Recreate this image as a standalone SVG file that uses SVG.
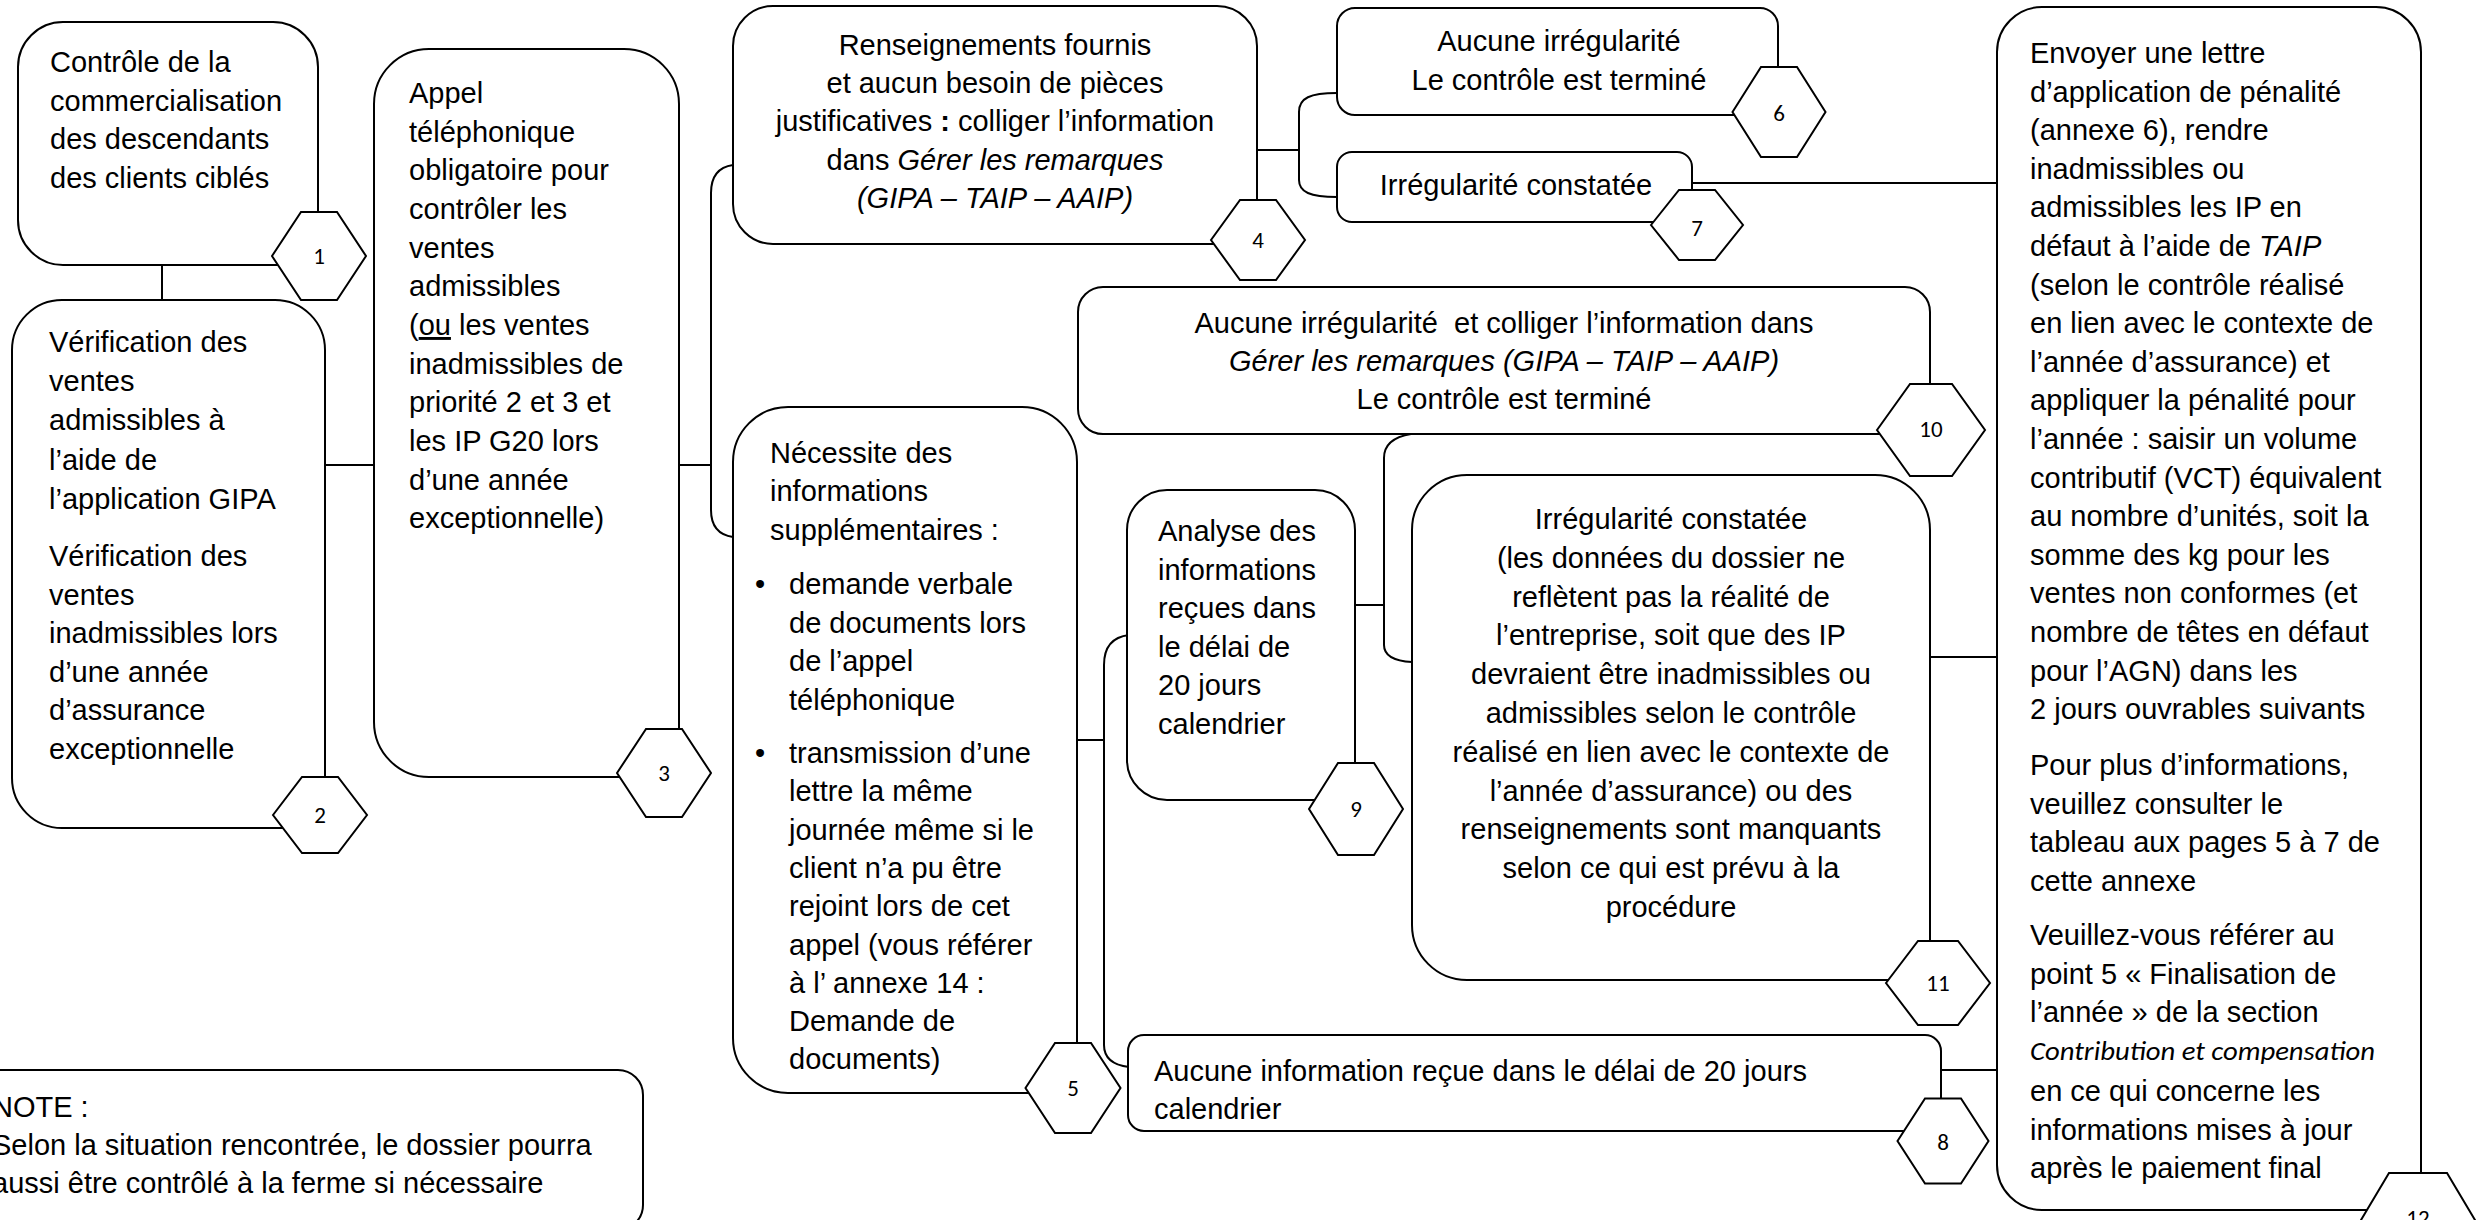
<svg xmlns="http://www.w3.org/2000/svg" width="2476" height="1220" viewBox="0 0 2476 1220">
<style>
.box{fill:#fff;stroke:#000;stroke-width:2}
.hex{fill:#fff;stroke:#000;stroke-width:2}
.conn{fill:none;stroke:#000;stroke-width:2}
.t{font-family:"Liberation Sans",Arial,sans-serif;font-size:29px;fill:#000}
.c{text-anchor:middle}
.i{font-style:italic}
.num{font-family:Carlito,Lato,"Open Sans",sans-serif;font-size:23px;text-anchor:middle;fill:#000}
</style>
<rect x="0" y="0" width="2476" height="1220" fill="#fff"/>
<g id="connectors">
<path class="conn" d="M162,265 V300"/>
<path class="conn" d="M325,465 H374"/>
<path class="conn" d="M679,465 H711"/>
<path class="conn" d="M733,165 C719,167 711,176 711,193 V510 C711,527 719,535 733,537"/>
<path class="conn" d="M1257,150 H1299"/>
<path class="conn" d="M1337,93 C1310,93 1299,98 1299,112 V180 C1299,192 1310,197 1337,197"/>
<path class="conn" d="M1692,183 H1997"/>
<path class="conn" d="M1077,740 H1104"/>
<path class="conn" d="M1129,635 C1112,637 1104,647 1104,665 V1045 C1104,1058 1112,1065 1129,1067"/>
<path class="conn" d="M1355,605 H1384"/>
<path class="conn" d="M1411,434 C1393,437 1384,445 1384,458 V645 C1384,655 1393,661 1412,662"/>
<path class="conn" d="M1930,657 H1997"/>
<path class="conn" d="M1941,1070 H1997"/>
</g>
<g id="node1">
<path class="box" d="M63,22 H273 A45,45 0 0 1 318,67 V265 H63 A45,45 0 0 1 18,220 V67 A45,45 0 0 1 63,22 Z"/>
<text class="t"><tspan x="50" y="72">Contrôle de la</tspan><tspan x="50" y="110.5">commercialisation</tspan><tspan x="50" y="149">des descendants</tspan><tspan x="50" y="187.5">des clients ciblés</tspan></text>
<polygon class="hex" points="272,256 301,212 337,212 366,256 337,300 301,300"/>
<text class="num" x="319" y="264">1</text>
</g>
<g id="node2">
<path class="box" d="M62,300 H275 A50,50 0 0 1 325,350 V828 H62 A50,50 0 0 1 12,778 V350 A50,50 0 0 1 62,300 Z"/>
<text class="t"><tspan x="49" y="352">Vérification des</tspan><tspan x="49" y="391.2">ventes</tspan><tspan x="49" y="430.4">admissibles à</tspan><tspan x="49" y="469.6">l’aide de</tspan><tspan x="49" y="508.8">l’application GIPA</tspan><tspan x="49" y="566">Vérification des</tspan><tspan x="49" y="604.6">ventes</tspan><tspan x="49" y="643.2">inadmissibles lors</tspan><tspan x="49" y="681.8">d’une année</tspan><tspan x="49" y="720.4">d’assurance</tspan><tspan x="49" y="759">exceptionnelle</tspan></text>
<polygon class="hex" points="273,815 302,777 338,777 367,815 338,853 302,853"/>
<text class="num" x="320" y="823">2</text>
</g>
<g id="node3">
<path class="box" d="M429,49 H624 A55,55 0 0 1 679,104 V777 H429 A55,55 0 0 1 374,722 V104 A55,55 0 0 1 429,49 Z"/>
<text class="t"><tspan x="409" y="103">Appel</tspan><tspan x="409" y="141.7">téléphonique</tspan><tspan x="409" y="180.3">obligatoire pour</tspan><tspan x="409" y="219">contrôler les</tspan><tspan x="409" y="257.6">ventes</tspan><tspan x="409" y="296.3">admissibles</tspan><tspan x="409" y="335">(<tspan text-decoration="underline">ou</tspan> les ventes</tspan><tspan x="409" y="373.6">inadmissibles de</tspan><tspan x="409" y="412.2">priorité 2 et 3 et</tspan><tspan x="409" y="450.9">les IP G20 lors</tspan><tspan x="409" y="489.5">d’une année</tspan><tspan x="409" y="528.2">exceptionnelle)</tspan></text>
<polygon class="hex" points="617,773 646,729 682,729 711,773 682,817 646,817"/>
<text class="num" x="664" y="781">3</text>
</g>
<g id="node4">
<path class="box" d="M773,6 H1217 A40,40 0 0 1 1257,46 V244 H773 A40,40 0 0 1 733,204 V46 A40,40 0 0 1 773,6 Z"/>
<text class="t c"><tspan x="995" y="54.5">Renseignements fournis</tspan><tspan x="995" y="93">et aucun besoin de pièces</tspan><tspan x="995" y="131">justificatives <tspan font-weight="bold">:</tspan> colliger l’information</tspan><tspan x="995" y="169.5">dans <tspan class="i">Gérer les remarques</tspan></tspan><tspan x="995" y="208" class="i">(GIPA – TAIP – AAIP)</tspan></text>
<polygon class="hex" points="1211,240 1240,200 1276,200 1305,240 1276,280 1240,280"/>
<text class="num" x="1258" y="248">4</text>
</g>
<g id="node5">
<path class="box" d="M788,407 H1022 A55,55 0 0 1 1077,462 V1093 H788 A55,55 0 0 1 733,1038 V462 A55,55 0 0 1 788,407 Z"/>
<text class="t"><tspan x="770" y="462.5">Nécessite des</tspan><tspan x="770" y="501">informations</tspan><tspan x="770" y="539.5">supplémentaires :</tspan></text>
<text class="t"><tspan x="755" y="594">•</tspan><tspan x="755" y="763">•</tspan></text>
<text class="t"><tspan x="789" y="594">demande verbale</tspan><tspan x="789" y="632.5">de documents lors</tspan><tspan x="789" y="671">de l’appel</tspan><tspan x="789" y="709.5">téléphonique</tspan><tspan x="789" y="763">transmission d’une</tspan><tspan x="789" y="801.3">lettre la même</tspan><tspan x="789" y="839.6">journée même si le</tspan><tspan x="789" y="877.9">client n’a pu être</tspan><tspan x="789" y="916.2">rejoint lors de cet</tspan><tspan x="789" y="954.5">appel (vous référer</tspan><tspan x="789" y="992.8">à l’ annexe 14 :</tspan><tspan x="789" y="1031.1">Demande de</tspan><tspan x="789" y="1069.4">documents)</tspan></text>
<polygon class="hex" points="1025.5,1088 1055,1043 1091,1043 1120.5,1088 1091,1133 1055,1133"/>
<text class="num" x="1073" y="1096">5</text>
</g>
<g id="node6">
<path class="box" d="M1355,8 H1760 A18,18 0 0 1 1778,26 V115 H1355 A18,18 0 0 1 1337,97 V26 A18,18 0 0 1 1355,8 Z"/>
<text class="t c"><tspan x="1559" y="51">Aucune irrégularité</tspan><tspan x="1559" y="89.5">Le contrôle est terminé</tspan></text>
<polygon class="hex" points="1732.5,112 1761,67 1797,67 1825.5,112 1797,157 1761,157"/>
<text class="num" x="1779" y="121">6</text>
</g>
<g id="node7">
<path class="box" d="M1352,152 H1677 A15,15 0 0 1 1692,167 V222 H1352 A15,15 0 0 1 1337,207 V167 A15,15 0 0 1 1352,152 Z"/>
<text class="t c" x="1516" y="195">Irrégularité constatée</text>
<polygon class="hex" points="1651,225 1679,190 1715,190 1743,225 1715,260 1679,260"/>
<text class="num" x="1697" y="236">7</text>
</g>
<g id="node8">
<path class="box" d="M1144,1035 H1925 A16,16 0 0 1 1941,1051 V1131 H1144 A16,16 0 0 1 1128,1115 V1051 A16,16 0 0 1 1144,1035 Z"/>
<text class="t"><tspan x="1154" y="1080.5">Aucune information reçue dans le délai de 20 jours</tspan><tspan x="1154" y="1119">calendrier</tspan></text>
<polygon class="hex" points="1897.5,1141 1925,1098.5 1961,1098.5 1988.5,1141 1961,1183.5 1925,1183.5"/>
<text class="num" x="1943" y="1150">8</text>
</g>
<g id="node9">
<path class="box" d="M1167,490 H1315 A40,40 0 0 1 1355,530 V800 H1167 A40,40 0 0 1 1127,760 V530 A40,40 0 0 1 1167,490 Z"/>
<text class="t"><tspan x="1158" y="541">Analyse des</tspan><tspan x="1158" y="579.6">informations</tspan><tspan x="1158" y="618.2">reçues dans</tspan><tspan x="1158" y="656.8">le délai de</tspan><tspan x="1158" y="695.4">20 jours</tspan><tspan x="1158" y="734">calendrier</tspan></text>
<polygon class="hex" points="1309,809 1338,763 1374,763 1403,809 1374,855 1338,855"/>
<text class="num" x="1356" y="817">9</text>
</g>
<g id="node10">
<path class="box" d="M1103,287 H1905 A25,25 0 0 1 1930,312 V434 H1103 A25,25 0 0 1 1078,409 V312 A25,25 0 0 1 1103,287 Z"/>
<text class="t c"><tspan x="1504" y="332.5">Aucune irrégularité&#160; et colliger l’information dans</tspan><tspan x="1504" y="370.5" class="i">Gérer les remarques (GIPA – TAIP – AAIP)</tspan><tspan x="1504" y="409">Le contrôle est terminé</tspan></text>
<polygon class="hex" points="1877,430 1910,384 1952,384 1985,430 1952,476 1910,476"/>
<text class="num" x="1931" y="437">10</text>
</g>
<g id="node11">
<path class="box" d="M1467,475 H1875 A55,55 0 0 1 1930,530 V980 H1467 A55,55 0 0 1 1412,925 V530 A55,55 0 0 1 1467,475 Z"/>
<text class="t c"><tspan x="1671" y="529">Irrégularité constatée</tspan><tspan x="1671" y="567.8">(les données du dossier ne</tspan><tspan x="1671" y="606.6">reflètent pas la réalité de</tspan><tspan x="1671" y="645.4">l’entreprise, soit que des IP</tspan><tspan x="1671" y="684.2">devraient être inadmissibles ou</tspan><tspan x="1671" y="723">admissibles selon le contrôle</tspan><tspan x="1671" y="761.8">réalisé en lien avec le contexte de</tspan><tspan x="1671" y="800.6">l’année d’assurance) ou des</tspan><tspan x="1671" y="839.4">renseignements sont manquants</tspan><tspan x="1671" y="878.2">selon ce qui est prévu à la</tspan><tspan x="1671" y="917">procédure</tspan></text>
<polygon class="hex" points="1886,983 1918,941 1958,941 1990,983 1958,1025 1918,1025"/>
<text class="num" x="1938" y="991">11</text>
</g>
<g id="node12">
<path class="box" d="M2042,7 H2376 A45,45 0 0 1 2421,52 V1210 H2042 A45,45 0 0 1 1997,1165 V52 A45,45 0 0 1 2042,7 Z"/>
<text class="t"><tspan x="2030" y="63">Envoyer une lettre</tspan><tspan x="2030" y="101.6">d’application de pénalité</tspan><tspan x="2030" y="140.2">(annexe 6), rendre</tspan><tspan x="2030" y="178.8">inadmissibles ou</tspan><tspan x="2030" y="217.4">admissibles les IP en</tspan><tspan x="2030" y="256">défaut à l’aide de <tspan class="i">TAIP</tspan></tspan><tspan x="2030" y="294.6">(selon le contrôle réalisé</tspan><tspan x="2030" y="333.2">en lien avec le contexte de</tspan><tspan x="2030" y="371.8">l’année d’assurance) et</tspan><tspan x="2030" y="410.4">appliquer la pénalité pour</tspan><tspan x="2030" y="449">l’année : saisir un volume</tspan><tspan x="2030" y="487.6">contributif (VCT) équivalent</tspan><tspan x="2030" y="526.2">au nombre d’unités, soit la</tspan><tspan x="2030" y="564.8">somme des kg pour les</tspan><tspan x="2030" y="603.4">ventes non conformes (et</tspan><tspan x="2030" y="642">nombre de têtes en défaut</tspan><tspan x="2030" y="680.6">pour l’AGN) dans les</tspan><tspan x="2030" y="719.2">2 jours ouvrables suivants</tspan><tspan x="2030" y="775">Pour plus d’informations,</tspan><tspan x="2030" y="813.6">veuillez consulter le</tspan><tspan x="2030" y="852.2">tableau aux pages 5 à 7 de</tspan><tspan x="2030" y="890.8">cette annexe</tspan><tspan x="2030" y="945">Veuillez-vous référer au</tspan><tspan x="2030" y="983.6">point 5 « Finalisation de</tspan><tspan x="2030" y="1022.2">l’année » de la section</tspan><tspan x="2030" y="1101">en ce qui concerne les</tspan><tspan x="2030" y="1139.6">informations mises à jour</tspan><tspan x="2030" y="1178">après le paiement final</tspan></text>
<text x="2030" y="1060" font-family="Carlito,Lato,'Open Sans',sans-serif" font-size="27" font-style="italic" textLength="345" lengthAdjust="spacingAndGlyphs">Contribution et compensation</text>
<polygon class="hex" points="2361,1220 2389,1173 2447,1173 2475,1220 2447,1267 2389,1267"/>
<text class="num" x="2418" y="1226">12</text>
</g>
<g id="note">
<path class="box" d="M-30,1070 H618 A25,25 0 0 1 643,1095 V1205 A25,25 0 0 1 618,1230 H-30 Z"/>
<text class="t"><tspan x="-8" y="1117">NOTE :</tspan><tspan x="-8" y="1155">Selon la situation rencontrée, le dossier pourra</tspan><tspan x="-8" y="1193">aussi être contrôlé à la ferme si nécessaire</tspan></text>
</g>
</svg>
